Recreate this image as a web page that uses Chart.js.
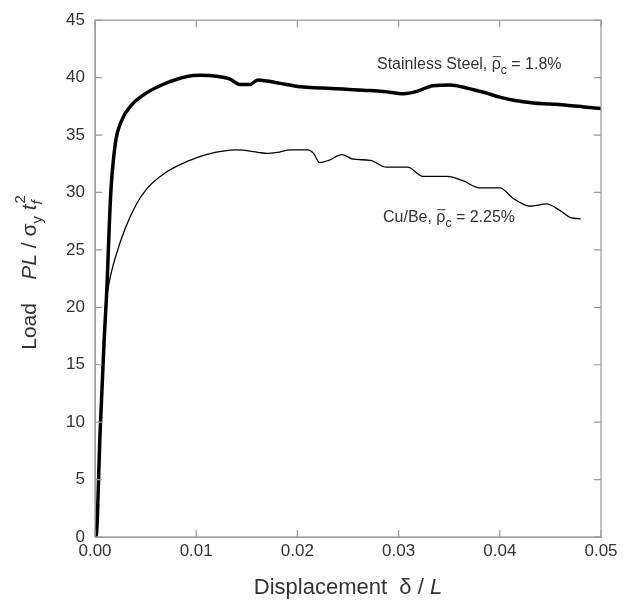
<!DOCTYPE html>
<html>
  <head>
    <script src="https://cdn.jsdelivr.net/npm/chart.js@4/dist/chart.umd.min.js"></script>
    <style>
      body { margin: 0; background: #fff; }
    </style>
  </head>

  <body>
    <div style="width: 631px; height: 601px">
      <canvas id="canvas" width="631" height="601"></canvas>
    </div>
    <script>
      // stainless steel, rho_c = 1.8 %
      const steelX = [0, 0.0001, 0.0005, 0.0009, 0.00115, 0.00155, 0.002, 0.0026, 0.0036, 0.0048, 0.0067,
        0.0091, 0.0104, 0.0122, 0.0133, 0.0143, 0.0153, 0.0161, 0.017, 0.0183, 0.0203, 0.0225, 0.0245, 0.0265,
        0.0285, 0.0305, 0.0318, 0.0334, 0.0351, 0.0367, 0.0385, 0.04, 0.0415, 0.0433, 0.045, 0.0466, 0.0483, 0.05];
      const steelY = [0, 0, 9, 17.1, 21.2, 29.8, 34.2, 36.2, 37.6, 38.5, 39.4,
        40.1, 40.2, 40.1, 39.9, 39.4, 39.4, 39.8, 39.7, 39.5, 39.2, 39.1, 39.0, 38.9,
        38.8, 38.6, 38.8, 39.3, 39.35, 39.1, 38.7, 38.3, 38.0, 37.8, 37.7, 37.6, 37.45, 37.3];

      // Cu/Be, rho_c = 2.25 %
      const cubeX = [0, 0.0001, 0.0005, 0.001, 0.0012, 0.0015, 0.002, 0.003, 0.0041, 0.0052, 0.0071, 0.0091, 0.011,
        0.014, 0.0161, 0.017, 0.0181, 0.0193, 0.021, 0.0216, 0.0222, 0.0231, 0.0244, 0.0255, 0.0272, 0.0288,
        0.0309, 0.0324, 0.0348, 0.0364, 0.038, 0.04, 0.0413, 0.043, 0.0446, 0.046, 0.047, 0.048];
      const cubeY = [0, 0, 9, 19.5, 21.1, 22.6, 24.3, 26.9, 29.0, 30.4, 31.8, 32.7, 33.3,
        33.7, 33.5, 33.4, 33.5, 33.7, 33.7, 33.4, 32.6, 32.8, 33.3, 32.9, 32.8, 32.2,
        32.2, 31.4, 31.4, 31.0, 30.4, 30.4, 29.5, 28.8, 29.0, 28.4, 27.8, 27.7];

      const xTicks = [0, 0.01, 0.02, 0.03, 0.04, 0.05];
      const yTicks = [0, 5, 10, 15, 20, 25, 30, 35, 40, 45];

      const FONT = 'Liberation Sans, Arial, Helvetica, sans-serif';
      const FRAME = '#9a9a9a';
      const TEXT = '#333';

      const zip = (xs, ys) => xs.map((x, i) => ({ x: x, y: ys[i] }));

      // draw a row of text runs (italic / sub / sup / overline)
      function runs(ctx, list, x, y, size, align) {
        const widths = list.map((r) => {
          ctx.font = (r.it ? 'italic ' : '') + (r.size || size) + 'px ' + FONT;
          return r.stack ? 0 : ctx.measureText(r.t).width;
        });
        let total = widths.reduce((a, b) => a + b, 0);
        let cx = align === 'center' ? x - total / 2 : x;
        list.forEach((r, i) => {
          ctx.font = (r.it ? 'italic ' : '') + (r.size || size) + 'px ' + FONT;
          const px = r.stack ? cx - widths[i - 1] + (r.dx || 0) : cx;
          ctx.fillText(r.t, px, y + (r.dy || 0));
          if (r.bar) {
            const w = ctx.measureText(r.t).width;
            ctx.fillRect(px + 1, y - size * 0.8, w - 1, 1);
          }
          cx += widths[i];
        });
      }

      const decorations = {
        id: 'decorations',
        afterDraw(chart) {
          const ctx = chart.ctx;
          const a = chart.chartArea;
          const xs = chart.scales.x;
          const ys = chart.scales.y;
          ctx.save();
          // frame + inward ticks on all four sides
          ctx.strokeStyle = FRAME;
          ctx.lineWidth = 1.2;
          ctx.strokeRect(a.left, a.top, a.right - a.left, a.bottom - a.top);
          ctx.beginPath();
          xTicks.forEach((v) => {
            const p = xs.getPixelForValue(v);
            ctx.moveTo(p, a.bottom); ctx.lineTo(p, a.bottom - 7);
            ctx.moveTo(p, a.top); ctx.lineTo(p, a.top + 7);
          });
          yTicks.forEach((v) => {
            const p = ys.getPixelForValue(v);
            ctx.moveTo(a.left, p); ctx.lineTo(a.left + 7, p);
            ctx.moveTo(a.right, p); ctx.lineTo(a.right - 7, p);
          });
          ctx.stroke();

          ctx.fillStyle = TEXT;
          ctx.textBaseline = 'alphabetic';
          ctx.textAlign = 'left';
          // curve labels
          runs(ctx, [
            { t: 'Stainless Steel, ' },
            { t: '\u03c1', bar: true },
            { t: 'c', size: 12, dy: 5 },
            { t: ' = 1.8%' },
          ], 377, 69, 16, 'left');
          runs(ctx, [
            { t: 'Cu/Be, ' },
            { t: '\u03c1', bar: true },
            { t: 'c', size: 12, dy: 5 },
            { t: ' = 2.25%' },
          ], 383, 222, 16, 'left');

          // x title
          runs(ctx, [
            { t: 'Displacement  \u03b4 / ' },
            { t: 'L', it: true },
          ], (a.left + a.right) / 2, 594, 22, 'center');

          // y title, rotated
          ctx.translate(36, 275);
          ctx.rotate(-Math.PI / 2);
          runs(ctx, [
            { t: 'Load    ' },
            { t: 'PL', it: true },
            { t: ' / \u03c3' },
            { t: 'y', size: 15, dy: 6 },
            { t: ' ' },
            { t: 't', it: true },
            { t: 'f', it: true, size: 15, dy: 6 },
            { t: '2', size: 15, dy: -11, stack: true, dx: 1 },
          ], 0, 0, 21, 'center');
          ctx.restore();
        },
      };

      new Chart(document.getElementById('canvas').getContext('2d'), {
        type: 'line',
        data: {
          datasets: [
            {
              label: 'Stainless Steel',
              data: zip(steelX, steelY),
              borderColor: '#000',
              borderWidth: 3.5,
              pointRadius: 0,
              cubicInterpolationMode: 'monotone',
            },
            {
              label: 'Cu/Be',
              data: zip(cubeX, cubeY),
              borderColor: '#000',
              borderWidth: 1.3,
              pointRadius: 0,
              cubicInterpolationMode: 'monotone',
            },
          ],
        },
        options: {
          responsive: false,
          animation: false,
          layout: {
            padding: { top: 18, right: 30, left: 0, bottom: 0 },
          },
          plugins: {
            legend: { display: false },
            tooltip: { enabled: false },
          },
          scales: {
            x: {
              type: 'linear',
              min: 0,
              max: 0.05,
              afterFit: (s) => { s.height = 64; },
              afterBuildTicks: (s) => { s.ticks = xTicks.map((v) => ({ value: v })); },
              grid: { drawOnChartArea: false, drawTicks: false },
              border: { color: FRAME },
              ticks: {
                padding: 4,
                color: TEXT,
                font: { family: FONT, size: 17 },
                callback: (v) => v.toFixed(2),
              },
            },
            y: {
              min: 0,
              max: 45,
              afterFit: (s) => { s.width = 95; },
              afterBuildTicks: (s) => { s.ticks = yTicks.map((v) => ({ value: v })); },
              grid: { drawOnChartArea: false, drawTicks: false },
              border: { color: FRAME },
              ticks: {
                padding: 10,
                color: TEXT,
                font: { family: FONT, size: 17 },
              },
            },
          },
        },
        plugins: [decorations],
      });
    </script>
  </body>
</html>
